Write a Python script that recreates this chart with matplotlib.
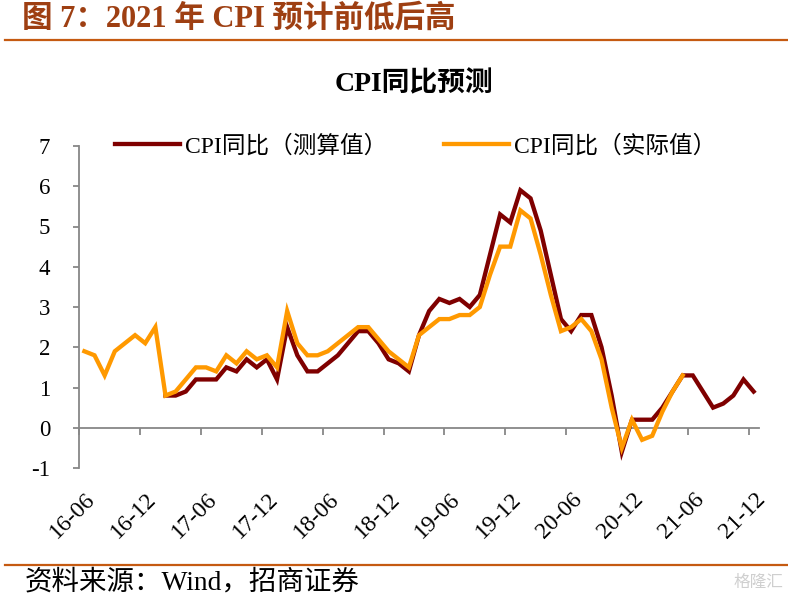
import matplotlib
matplotlib.use("Agg")
import matplotlib.pyplot as plt
import matplotlib.transforms as mtransforms
from matplotlib.font_manager import FontProperties

# ---------------- data ----------------
tick_labels = ["16-06", "16-12", "17-06", "17-12", "18-06", "18-12",
               "19-06", "19-12", "20-06", "20-12", "21-06", "21-12"]

# CPI YoY actual, 2016-06 .. 2021-05
cpi_actual = [1.9, 1.8, 1.3, 1.9, 2.1, 2.3, 2.1,
              2.5, 0.8, 0.9, 1.2, 1.5, 1.5, 1.4, 1.8, 1.6, 1.9, 1.7, 1.8,
              1.5, 2.9, 2.1, 1.8, 1.8, 1.9, 2.1, 2.3, 2.5, 2.5, 2.2, 1.9,
              1.7, 1.5, 2.3, 2.5, 2.7, 2.7, 2.8, 2.8, 3.0, 3.8, 4.5, 4.5,
              5.4, 5.2, 4.3, 3.3, 2.4, 2.5, 2.7, 2.4, 1.7, 0.5, -0.5, 0.2,
              -0.3, -0.2, 0.4, 0.9, 1.3]

# CPI YoY estimate, 2017-02 .. 2021-12 (first 8 months empty)
cpi_estimate = [None] * 8 + [
    0.8, 0.8, 0.9, 1.2, 1.2, 1.2, 1.5, 1.4, 1.7, 1.5, 1.7,
    1.2, 2.5, 1.8, 1.4, 1.4, 1.6, 1.8, 2.1, 2.4, 2.4, 2.1, 1.7,
    1.6, 1.4, 2.3, 2.9, 3.2, 3.1, 3.2, 3.0, 3.3, 4.3, 5.3, 5.1,
    5.9, 5.7, 4.9, 3.8, 2.7, 2.4, 2.8, 2.8, 2.0, 0.8, -0.6, 0.2,
    0.2, 0.2, 0.5, 0.9, 1.3, 1.3, 0.9, 0.5, 0.6, 0.8, 1.2, 0.9]

n_cat = len(cpi_estimate)
label_step = 6

# ---------------- figure ----------------
W, H = 788, 606
fig = plt.figure(figsize=(W / 100, H / 100), dpi=100)

serif_cjk = ["Liberation Serif", "Noto Sans CJK SC"]
fp_reg = FontProperties(family=serif_cjk, size=17)

def fx(px):
    return px / W

def fy(py):
    return 1 - py / H

# page title and rules
fig.text(fx(22), fy(19), "图 7：2021 年 CPI 预计前低后高", family=serif_cjk,
         fontsize=22, fontweight="bold", color="#9E3F12", ha="left", va="center")
fig.add_artist(plt.Line2D([fx(5), fx(788)], [fy(40), fy(40)], color="#C55A11", lw=1.6,
                          transform=fig.transFigure))
fig.add_artist(plt.Line2D([fx(5), fx(788)], [fy(565), fy(565)], color="#C55A11", lw=1.6,
                          transform=fig.transFigure))
fig.text(fx(25), fy(583), "资料来源：Wind，招商证券", family=serif_cjk,
         fontsize=19.8, color="black", ha="left", va="center")
fig.text(fx(783), fy(582), "格隆汇", family=["Noto Sans CJK SC"],
         fontsize=12, color="#CFCFCF", ha="right", va="center")

# chart title
fig.text(fx(414), fy(84), "CPI同比预测", family=serif_cjk, fontsize=20,
         fontweight="bold", color="black", ha="center", va="center")

# axes
left, right, top, bottom = 79.3, 758.7, 146, 468
ax = fig.add_axes([fx(left), fy(bottom), fx(right - left), (bottom - top) / H])

x = list(range(n_cat))
ax.plot(x, [v if v is not None else float("nan") for v in cpi_estimate],
        color="#7F0000", lw=3.1, solid_joinstyle="miter", label="CPI同比（测算值）", zorder=3)
ax.plot(list(range(len(cpi_actual))), cpi_actual, color="#FF9900", lw=3.1,
        solid_joinstyle="miter", label="CPI同比（实际值）", zorder=4)

ax.set_xlim(-0.5, n_cat - 0.5)
ax.set_ylim(-1, 7)

grey = "#878787"
for s in ["top", "right"]:
    ax.spines[s].set_visible(False)
ax.spines["left"].set_color(grey)
ax.spines["left"].set_linewidth(1.3)
ax.spines["bottom"].set_color(grey)
ax.spines["bottom"].set_linewidth(1.3)
ax.spines["bottom"].set_position(("data", 0))

ax.set_yticks(range(-1, 8))
ax.set_yticklabels([str(v) for v in range(-1, 8)])
ax.tick_params(axis="y", direction="out", length=4, width=1.3, color=grey, pad=17,
               labelsize=16.5)
for lab in ax.get_yticklabels():
    lab.set_fontfamily(serif_cjk)

tick_pos = [-0.5 + k * label_step for k in range(len(tick_labels))]
ax.set_xticks(tick_pos)
ax.set_xticklabels([])
ax.tick_params(axis="x", direction="out", length=5, width=1.3, color=grey)

# category labels placed low (below the plot area), rotated
trans = mtransforms.blended_transform_factory(ax.transData, ax.transAxes)
off = mtransforms.offset_copy(trans, fig=fig, x=8, y=-28, units="dots")
for k, lab in enumerate(tick_labels):
    ax.text(k * label_step, 0, lab, transform=off, rotation=45, rotation_mode="anchor",
            ha="right", va="center", family=serif_cjk, fontsize=17, color="black")

leg = ax.legend(loc="center", bbox_to_anchor=(fx(415.5), fy(146)),
                bbox_transform=fig.transFigure, ncol=2, frameon=False, prop=fp_reg,
                handlelength=2.75, handletextpad=0.22, columnspacing=2.4,
                borderpad=0, borderaxespad=0)
for t in leg.get_texts():
    t.set_color("black")

fig.savefig("out.png", dpi=100)
